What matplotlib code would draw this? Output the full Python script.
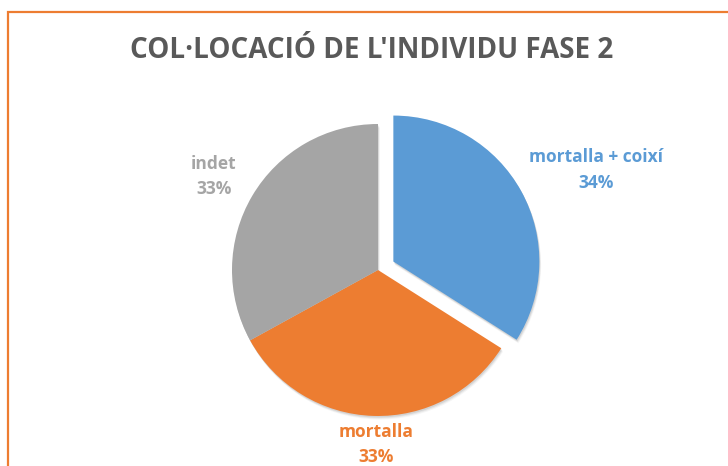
import matplotlib
matplotlib.use("Agg")
import matplotlib.pyplot as plt
import matplotlib.patches as mpatches
import matplotlib.transforms as mtransforms

# ---- data ----
categories = ["mortalla + coixí", "mortalla", "indet"]
values = [34, 33, 33]
pct_labels = ["34%", "33%", "33%"]
colors = ["#5B9BD5", "#ED7D31", "#A5A5A5"]
title = "COL·LOCACIÓ DE L'INDIVIDU FASE 2"

W, H = 728, 466
DPI = 100
fig = plt.figure(figsize=(W / DPI, H / DPI), dpi=DPI)
fig.patch.set_facecolor("white")

# pie geometry in pixels
cx, cy, R = 378, 270, 146

ax = fig.add_axes([0, 0, 1, 1])
wedges, _ = ax.pie(values, colors=colors, startangle=90, counterclock=False,
                   explode=[0.12, 0, 0], radius=1.0,
                   wedgeprops=dict(linewidth=0, zorder=3))
# soft shadows beneath all wedges (pixel offsets)
for w in wedges:
    for k, a in [(3.5, 0.04), (2.5, 0.06), (1.5, 0.08)]:
        tr = mtransforms.offset_copy(ax.transData, fig=fig, x=0.5 * k, y=-1.0 * k, units="dots")
        sh = mpatches.Wedge(w.center, w.r, w.theta1, w.theta2, transform=tr,
                            facecolor="black", edgecolor="none", alpha=a, zorder=1)
        ax.add_patch(sh)

ax.set_xlim(-cx / R, (W - cx) / R)
ax.set_ylim(-(H - cy) / R, cy / R)
ax.set_aspect("auto")
ax.axis("off")


def px(x, y):
    return ((x - cx) / R, (cy - y) / R)


font = "Open Sans"
label_pos = [((596, 157), (596, 183)), ((376, 432), (376, 457)), ((214, 164), (214, 189))]
for cat, pct, col, (p1, p2) in zip(categories, pct_labels, colors, label_pos):
    ax.text(*px(*p1), cat, ha="center", va="center", color=col, fontsize=12.5,
            fontweight="bold", family=font, zorder=5)
    ax.text(*px(*p2), pct, ha="center", va="center", color=col, fontsize=12.5,
            fontweight="bold", family=font, zorder=5)

fig.text(372 / W, 1 - 51 / H, title, ha="center", va="center", color="#595959",
         fontsize=20, fontweight="bold", family=font)

# orange frame (top and left edges visible)
frame = mpatches.Rectangle((8 / W, -0.1), 1.2, (H - 12) / H + 0.1, transform=fig.transFigure,
                           fill=False, edgecolor="#ED7D31", linewidth=1.6)
fig.patches.append(frame)

fig.savefig("out.png", dpi=DPI)
